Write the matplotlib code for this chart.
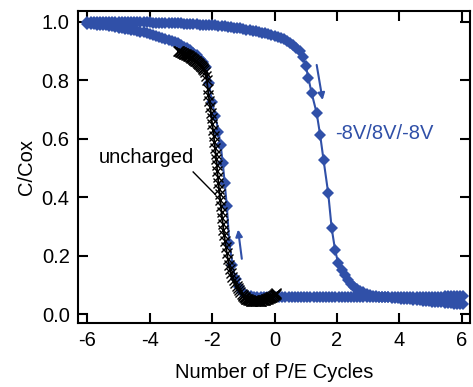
import matplotlib.pyplot as plt

plt.rcParams['font.family'] = ['Liberation Sans', 'DejaVu Sans']
plt.rcParams['font.size'] = 14.5

# blue hysteresis, forward sweep (left -> right, upper branch)
fwd_x = [-6.0, -5.9, -5.8, -5.7, -5.6, -5.5, -5.4, -5.3, -5.2, -5.1, -5.0,
         -4.9, -4.8, -4.7, -4.6, -4.5, -4.4, -4.3, -4.2, -4.1, -4.0,
         -3.9, -3.8, -3.7, -3.6, -3.5, -3.4, -3.3, -3.2, -3.1, -3.0,
         -2.9, -2.8, -2.7, -2.6, -2.5, -2.4, -2.3, -2.2, -2.1, -2.0,
         -1.9, -1.8, -1.7, -1.6, -1.5, -1.4, -1.3, -1.2, -1.1, -1.0,
         -0.9, -0.8, -0.7, -0.6, -0.5, -0.4, -0.3, -0.2, -0.1, 0.0,
         0.1, 0.2, 0.3, 0.4, 0.5, 0.6, 0.7, 0.8, 0.9, 1.0,
         1.08, 1.19, 1.35, 1.46, 1.57, 1.72, 1.83, 1.94, 2.04, 2.15,
         2.25, 2.35, 2.45, 2.55, 2.65, 2.75, 2.85, 2.95, 3.05, 3.15,
         3.25, 3.35, 3.45, 3.55, 3.65, 3.75, 3.85, 3.95, 4.05, 4.15,
         4.25, 4.35, 4.45, 4.55, 4.65, 4.75, 4.85, 4.95, 5.05, 5.15,
         5.25, 5.35, 5.45, 5.55, 5.65, 5.75, 5.85, 5.95, 6.05]
fwd_y = [1.0, 1.0, 1.0, 1.0, 1.0, 1.0, 1.0, 1.0, 1.0, 1.0, 1.0,
         0.999, 0.999, 0.999, 0.999, 0.999, 0.999, 0.999, 0.999, 0.999, 0.999,
         0.998, 0.998, 0.997, 0.997, 0.997, 0.996, 0.996, 0.996, 0.995, 0.995,
         0.994, 0.994, 0.993, 0.993, 0.992, 0.991, 0.991, 0.990, 0.989, 0.989,
         0.988, 0.987, 0.986, 0.985, 0.984, 0.983, 0.981, 0.980, 0.978, 0.976,
         0.974, 0.972, 0.970, 0.968, 0.966, 0.963, 0.961, 0.958, 0.955, 0.952,
         0.949, 0.945, 0.940, 0.935, 0.929, 0.921, 0.912, 0.900, 0.880, 0.850,
         0.810, 0.756, 0.688, 0.614, 0.528, 0.414, 0.295, 0.220, 0.175, 0.152,
         0.133, 0.118, 0.105, 0.095, 0.088, 0.081, 0.075, 0.070, 0.066, 0.064,
         0.062, 0.061, 0.060, 0.059, 0.058, 0.057, 0.056, 0.055, 0.054, 0.053,
         0.052, 0.051, 0.050, 0.049, 0.048, 0.047, 0.046, 0.045, 0.044, 0.043,
         0.042, 0.041, 0.040, 0.039, 0.038, 0.037, 0.036, 0.036, 0.035]

# blue hysteresis, return sweep (right -> left, lower branch)
ret_x = [6.05, 5.95, 5.85, 5.75, 5.65, 5.55, 5.45, 5.35, 5.25, 5.15, 5.05,
         4.95, 4.85, 4.75, 4.65, 4.55, 4.45, 4.35, 4.25, 4.15, 4.05,
         3.95, 3.85, 3.75, 3.65, 3.55, 3.45, 3.35, 3.25, 3.15, 3.05,
         2.95, 2.85, 2.75, 2.65, 2.55, 2.45, 2.35, 2.25, 2.15, 2.05,
         1.95, 1.85, 1.75, 1.65, 1.55, 1.45, 1.35, 1.25, 1.15, 1.05,
         0.95, 0.85, 0.75, 0.65, 0.55, 0.45, 0.35, 0.25, 0.15, 0.05,
         -0.05, -0.15, -0.25, -0.35, -0.45, -0.55, -0.65, -0.75, -0.85,
         -0.95, -1.05, -1.15, -1.25, -1.35, -1.45, -1.53, -1.6, -1.66,
         -1.73, -1.8, -1.9, -2.01, -2.1, -2.2,
         -2.3, -2.4, -2.5, -2.6, -2.7, -2.8, -2.9, -3.0, -3.1, -3.2,
         -3.3, -3.4, -3.5, -3.6, -3.7, -3.8, -3.9, -4.0, -4.1, -4.2,
         -4.3, -4.4, -4.5, -4.6, -4.7, -4.8, -4.9, -5.0, -5.1, -5.2,
         -5.3, -5.4, -5.5, -5.6, -5.7, -5.8, -5.9, -6.0]
ret_y = [0.062, 0.062, 0.062, 0.062, 0.062, 0.062, 0.062, 0.061, 0.061, 0.061,
         0.061, 0.061, 0.061, 0.061, 0.061, 0.061, 0.061, 0.061, 0.061, 0.061,
         0.060, 0.060, 0.060, 0.060, 0.060, 0.060, 0.060, 0.060, 0.060, 0.060,
         0.060, 0.059, 0.059, 0.059, 0.059, 0.059, 0.059, 0.059, 0.059, 0.059,
         0.059, 0.059, 0.059, 0.059, 0.059, 0.058, 0.058, 0.058, 0.058, 0.058,
         0.058, 0.058, 0.058, 0.058, 0.058, 0.058, 0.058, 0.058, 0.058, 0.058,
         0.058, 0.058, 0.058, 0.058, 0.058, 0.059, 0.060, 0.061, 0.062, 0.064,
         0.068, 0.078, 0.095, 0.120, 0.170, 0.243, 0.370, 0.450, 0.517,
         0.580, 0.625, 0.680, 0.727, 0.790, 0.845,
         0.862, 0.875, 0.886, 0.895, 0.903, 0.910, 0.916, 0.922, 0.927, 0.931,
         0.935, 0.939, 0.943, 0.946, 0.949, 0.952, 0.955, 0.958, 0.961, 0.964,
         0.967, 0.969, 0.971, 0.973, 0.975, 0.977, 0.979, 0.981, 0.983, 0.985,
         0.986, 0.988, 0.989, 0.990, 0.991, 0.992, 0.993, 0.994]

# uncharged reference curve
unc_x = [-3.09, -3.07, -3.05, -3.03, -3.01, -2.99, -2.97, -2.95, -2.93,
         -2.91, -2.89, -2.87, -2.85, -2.83, -2.81, -2.79, -2.77, -2.75,
         -2.73, -2.71, -2.69, -2.67, -2.65, -2.63, -2.61, -2.59, -2.57,
         -2.55, -2.53, -2.51, -2.49, -2.47, -2.45, -2.43, -2.41, -2.39,
         -2.37, -2.35, -2.33, -2.31, -2.29,
         -2.26, -2.22, -2.19, -2.17, -2.14,
         -2.12, -2.09, -2.06, -2.04, -2.02, -2.0, -1.97, -1.95, -1.93, -1.91,
         -1.89, -1.87, -1.85, -1.84, -1.82, -1.8, -1.78, -1.76, -1.74, -1.72,
         -1.7, -1.68, -1.66, -1.64, -1.61, -1.59, -1.56, -1.53, -1.5, -1.46,
         -1.43, -1.39, -1.35, -1.31, -1.27, -1.22, -1.18, -1.14, -1.1, -1.06,
         -1.02, -1.0, -0.98, -0.96, -0.94, -0.92, -0.9, -0.88, -0.86, -0.84,
         -0.82, -0.8, -0.78, -0.76, -0.74, -0.72, -0.7, -0.68, -0.66, -0.64,
         -0.62, -0.6, -0.58, -0.56, -0.54, -0.52, -0.5, -0.48, -0.46, -0.44,
         -0.42, -0.4, -0.38, -0.36, -0.34, -0.32, -0.3, -0.28, -0.26, -0.24,
         -0.22, -0.2, -0.18, -0.16, -0.14, -0.12, -0.1, -0.08, -0.06, -0.04,
         -0.02, 0.0, 0.02, 0.04, 0.06]
unc_y = [0.900, 0.900, 0.899, 0.898, 0.897, 0.896, 0.895, 0.894, 0.893,
         0.892, 0.891, 0.890, 0.889, 0.888, 0.887, 0.886, 0.885, 0.883,
         0.882, 0.880, 0.879, 0.877, 0.876, 0.874, 0.873, 0.871, 0.870,
         0.868, 0.867, 0.865, 0.863, 0.861, 0.859, 0.857, 0.855, 0.853,
         0.851, 0.849, 0.846, 0.843, 0.840,
         0.835, 0.828, 0.815, 0.8, 0.77,
         0.75, 0.73, 0.71, 0.69, 0.67, 0.65, 0.63, 0.61, 0.59, 0.57,
         0.55, 0.53, 0.51, 0.49, 0.47, 0.45, 0.43, 0.41, 0.39, 0.37,
         0.35, 0.33, 0.31, 0.29, 0.27, 0.25, 0.23, 0.21, 0.19, 0.17,
         0.155, 0.14, 0.127, 0.117, 0.107, 0.097, 0.089, 0.082, 0.076, 0.07,
         0.065, 0.062, 0.06, 0.058, 0.056, 0.054, 0.053, 0.052, 0.051, 0.05,
         0.049, 0.048, 0.048, 0.047, 0.047, 0.046, 0.046, 0.046, 0.045, 0.045,
         0.045, 0.045, 0.045, 0.045, 0.045, 0.045, 0.046, 0.046, 0.046, 0.047,
         0.047, 0.048, 0.048, 0.049, 0.049, 0.05, 0.05, 0.051, 0.052, 0.053,
         0.054, 0.055, 0.056, 0.057, 0.058, 0.059, 0.06, 0.061, 0.063, 0.064,
         0.066, 0.067, 0.069, 0.071, 0.073]

blue = '#3050a8'

fig = plt.figure(figsize=(4.73, 3.87), dpi=100)
ax = fig.add_axes([0.165, 0.165, 0.829, 0.807])

ax.plot(fwd_x, fwd_y, color=blue, lw=1.5, marker='D', markersize=6.5,
        markeredgewidth=0)
ax.plot(ret_x, ret_y, color=blue, lw=1.5, marker='D', markersize=6.5,
        markeredgewidth=0)
ax.plot(unc_x, unc_y, color='black', lw=1.3, marker='x',
        markersize=7, markeredgewidth=1.0)

# sweep direction arrows
ax.annotate('', xy=(1.54, 0.733), xytext=(1.35, 0.853),
            arrowprops=dict(arrowstyle='-|>', color=blue, lw=1.5,
                            mutation_scale=10, shrinkA=0, shrinkB=0))
ax.annotate('', xy=(-1.17, 0.29), xytext=(-1.05, 0.19),
            arrowprops=dict(arrowstyle='-|>', color=blue, lw=1.5,
                            mutation_scale=10, shrinkA=0, shrinkB=0))

ax.text(1.94, 0.62, '-8V/8V/-8V', color=blue, ha='left', va='center')
ax.text(-4.11, 0.538, 'uncharged', ha='center', va='center')
ax.plot([-2.61, -1.9], [0.487, 0.41], color='black', lw=1.0)

ax.set_xlim(-6.3, 6.27)
ax.set_ylim(-0.03, 1.038)
ax.set_xticks([-6, -4, -2, 0, 2, 4, 6])
ax.set_yticks([0.0, 0.2, 0.4, 0.6, 0.8, 1.0])
ax.set_xticklabels(['-6', '-4', '-2', '0', '2', '4', '6'])
ax.tick_params(direction='in', length=7, width=1.5, top=True, right=True,
               pad=6)
for s in ax.spines.values():
    s.set_linewidth(1.5)

ax.set_xlabel('Number of P/E Cycles', labelpad=9)
ax.set_ylabel('C/Cox', labelpad=4)

fig.savefig('out.png', dpi=100)
